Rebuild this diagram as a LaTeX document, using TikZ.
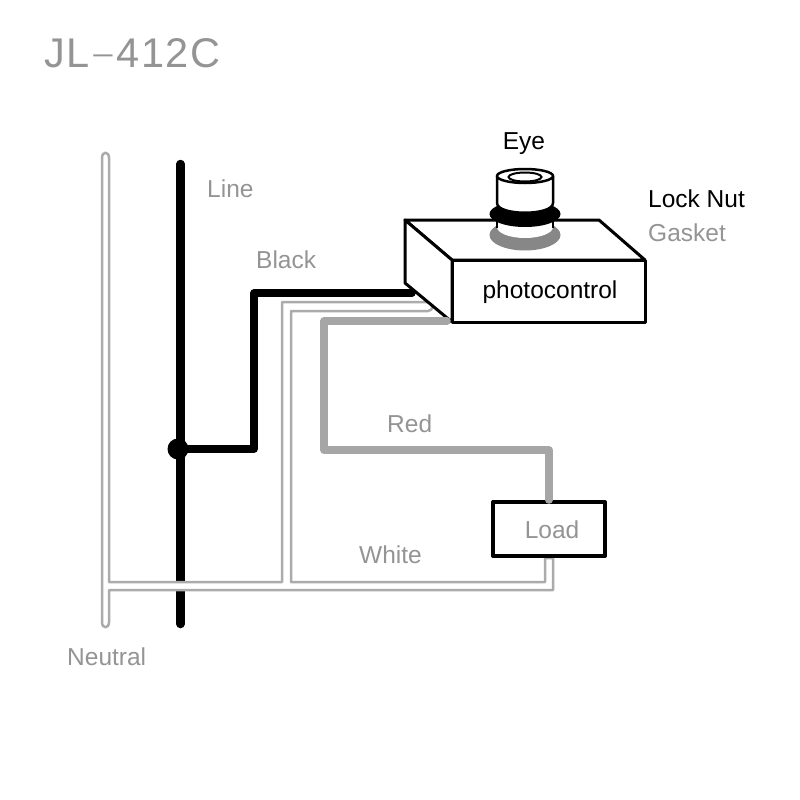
\documentclass[tikz,border=0pt]{standalone}
\usepackage{fontspec}
\setmainfont{Liberation Sans}

\tikzstyle{label}=[font=\fontsize{24.5}{28}\selectfont,text=black!42,inner sep=0pt,anchor=west]
\tikzstyle{darklabel}=[label,text=black]
\tikzstyle{hotwire}=[draw=black,line width=7.5pt,line cap=round,line join=round]
\tikzstyle{redwire}=[draw=black!35,line width=7.5pt,line cap=round,line join=round]
\tikzstyle{whitewire}=[draw=black!33,fill=white,line width=2.5pt,line join=round]
\tikzstyle{housing}=[draw=black,fill=white,line width=3pt,line join=round]

\begin{document}
\begin{tikzpicture}[x=1pt,y=-1pt]
   \useasboundingbox (0,0) rectangle (800,800);

   % Title
   \node[label,text=black!42,font=\fontsize{41.5}{46}\selectfont\addfontfeature{LetterSpace=4.5}] (title) at (44,53) {JL\raisebox{5pt}{\scalebox{1.9}[0.6]{-}}412C};

   % Supply line
   \coordinate (linetop) at (180.5,164);
   \coordinate (linebottom) at (180.5,624);
   \draw[hotwire,line width=8.5pt] (linetop) -- (linebottom);
   \node[circle,fill=black,minimum size=21pt,inner sep=0pt] (tap) at (178,449) {};

   % Black lead
   \coordinate (blackend) at (412,293);
   \draw[hotwire] (tap.center) -| (254,293) -- (blackend);

   % Neutral and white leads
   \draw[whitewire] (109,582) -- (282,582) -- (282,302) -- (428,302)
   .. controls (434,302) and (434,311) .. (428,311) -- (291,311) -- (291,582)
   -- (545,582) -- (545,558) -- (553,558) -- (553,590) -- (109,590) -- (109,622)
   .. controls (109,629) and (102,629) .. (102,622) -- (102,158)
   .. controls (102,151) and (109,151) .. (109,158) -- cycle;

   % Photocontrol housing
   \coordinate (topbl) at (405,220);
   \coordinate (topbr) at (599,220);
   \coordinate (frontbl) at (452,322);
   \coordinate (sidebl) at (405,283);
   \filldraw[housing] (topbl) -- (topbr) -- (645,260) -- (452,260) -- cycle;
   \filldraw[housing] (topbl) -- (452,260) -- (frontbl) -- (sidebl) -- cycle;
   \node[housing,minimum width=193pt,minimum height=62pt,inner sep=0pt] (photo) at (548.5,291) {};
   \node[darklabel,anchor=center] (phototext) at (550,292.5) {photocontrol};

   % Eye, gasket and lock nut
   \fill[black!47] (525,235) ellipse (35.5pt and 15.5pt);
   \fill[white] (525,227) ellipse (28pt and 11pt);
   \draw[line width=2.5pt] (497,220) -- (497,228);
   \draw[line width=2.5pt] (553,220) -- (553,228);
   \fill[black] (525,214) ellipse (35.5pt and 13pt);
   \filldraw[housing,line width=2.5pt] (497,176) -- (497,203) .. controls (497,216) and (553,216) .. (553,203) -- (553,176) -- cycle;
   \filldraw[housing,line width=2.5pt] (525,176) ellipse (28pt and 7pt);
   \draw[line width=2pt] (525,177) ellipse (16.5pt and 4.5pt);

   % Load and red lead
   \node[draw=black,fill=white,line width=4pt,line join=round,minimum width=112pt,minimum height=54pt,inner sep=0pt] (load) at (549,529) {};
   \node[label,anchor=center] (loadtext) at (552,530) {Load};
   \coordinate (redend) at (447,321);
   \draw[redwire] (redend) -- (324,321) -- (324,450) -- (549,450) -- (load.north);

   % Labels
   \node[darklabel,anchor=center] (eye) at (524,144) {Eye};
   \node[darklabel] (locknut) at (648,199) {Lock Nut};
   \node[label] (gasket) at (648,233) {Gasket};
   \node[label] (line) at (207,189) {Line};
   \node[label] (black) at (256,260) {Black};
   \node[label] (red) at (387,424) {Red};
   \node[label] (white) at (359,555) {White};
   \node[label] (neutral) at (67,657) {Neutral};
\end{tikzpicture}
\end{document}
